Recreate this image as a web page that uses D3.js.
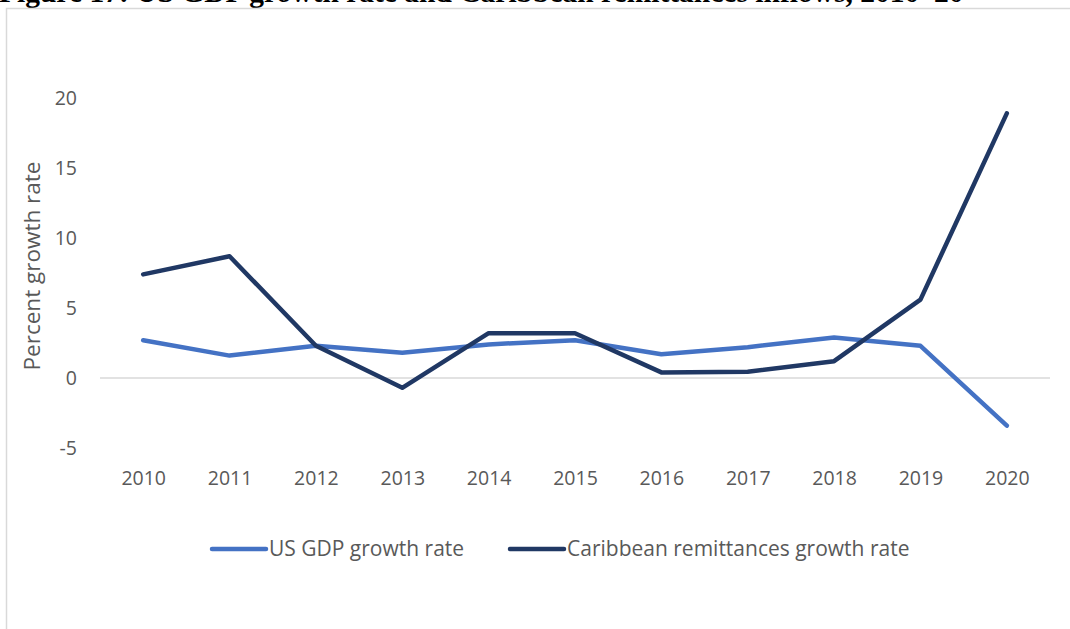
<!DOCTYPE html>
<html>
<head>
<meta charset="utf-8">
<script src="https://cdn.jsdelivr.net/npm/d3@7"></script>
<style>
  html, body { margin: 0; padding: 0; background: #fff; }
  svg { display: block; }
</style>
</head>
<body>
<svg id="chart" width="1070" height="629"></svg>
<script>
// Years on the category axis
const years = ["2010", "2011", "2012", "2013", "2014", "2015", "2016", "2017", "2018", "2019", "2020"];
// Annual growth rates, percent
const usGdpGrowth = [2.7, 1.6, 2.3, 1.8, 2.4, 2.7, 1.7, 2.2, 2.9, 2.3, -3.4];
const caribbeanRemittancesGrowth = [7.4, 8.7, 2.3, -0.7, 3.2, 3.2, 0.4, 0.45, 1.2, 5.6, 18.9];
// Value axis ticks
const yTicks = [-5, 0, 5, 10, 15, 20];
const seriesNames = ["US GDP growth rate", "Caribbean remittances growth rate"];

const svg = d3.select("#chart");
const font = "'Open Sans', sans-serif";
const textColor = "#595959";

// Figure caption, running off the top edge of the page
svg.append("text")
  .attr("x", -1).attr("y", 2)
  .attr("font-family", "'Liberation Serif', 'Times New Roman', serif")
  .attr("font-weight", "bold")
  .attr("font-size", 29.5)
  .attr("fill", "#000")
  .text("Figure 17: US GDP growth rate and Caribbean remittances inflows, 2010\u201320");

// Chart frame (left and top edges visible)
svg.append("path")
  .attr("d", "M6.5,629 V8.5 H1070")
  .attr("fill", "none")
  .attr("stroke", "#d9d9d9")
  .attr("stroke-width", 1.5);

const x = d3.scalePoint().domain(years).range([100, 1050]).padding(0.5);
const y = d3.scaleLinear().domain([-5, 20]).range([448, 98]);

// Zero baseline
svg.append("line")
  .attr("x1", 100).attr("x2", 1050)
  .attr("y1", y(0)).attr("y2", y(0))
  .attr("stroke", "#d9d9d9").attr("stroke-width", 1.5);

// Value axis (plain hyphen for negatives)
const yAxis = svg.append("g")
  .attr("transform", "translate(77,0)")
  .call(d3.axisLeft(y).tickValues(yTicks).tickSize(0).tickPadding(0).tickFormat(d => String(d)));
yAxis.select(".domain").remove();
yAxis.selectAll("text")
  .attr("font-family", font).attr("font-size", 19.5).attr("fill", textColor)
  .attr("dy", "0.35em");

// Category axis
const xAxis = svg.append("g")
  .attr("transform", "translate(0,466)")
  .call(d3.axisBottom(x).tickSize(0).tickPadding(0));
xAxis.select(".domain").remove();
xAxis.selectAll("text")
  .attr("font-family", font).attr("font-size", 19.5).attr("fill", textColor)
  .attr("dy", "0.95em");

// Axis title
svg.append("text")
  .attr("transform", "translate(40,266) rotate(-90)")
  .attr("text-anchor", "middle")
  .attr("font-family", font).attr("font-size", 22.5).attr("fill", textColor)
  .text("Percent growth rate");

const line = d3.line().x((d, i) => x(years[i])).y(d => y(d));
const colors = ["#4472C4", "#203864"];

[usGdpGrowth, caribbeanRemittancesGrowth].forEach((vals, k) => {
  svg.append("path")
    .datum(vals)
    .attr("d", line)
    .attr("fill", "none")
    .attr("stroke", colors[k])
    .attr("stroke-width", 4.5)
    .attr("stroke-linejoin", "round")
    .attr("stroke-linecap", "round");
});

// Legend
const legend = [
  { name: seriesNames[0], color: colors[0], x: 212 },
  { name: seriesNames[1], color: colors[1], x: 510 }
];
legend.forEach(l => {
  svg.append("line")
    .attr("x1", l.x).attr("x2", l.x + 54)
    .attr("y1", 549).attr("y2", 549)
    .attr("stroke", l.color).attr("stroke-width", 4.5)
    .attr("stroke-linecap", "round");
  svg.append("text")
    .attr("x", l.x + 57).attr("y", 549).attr("dy", "0.35em")
    .attr("font-family", font).attr("font-size", 21).attr("fill", textColor)
    .text(l.name);
});
</script>
</body>
</html>
